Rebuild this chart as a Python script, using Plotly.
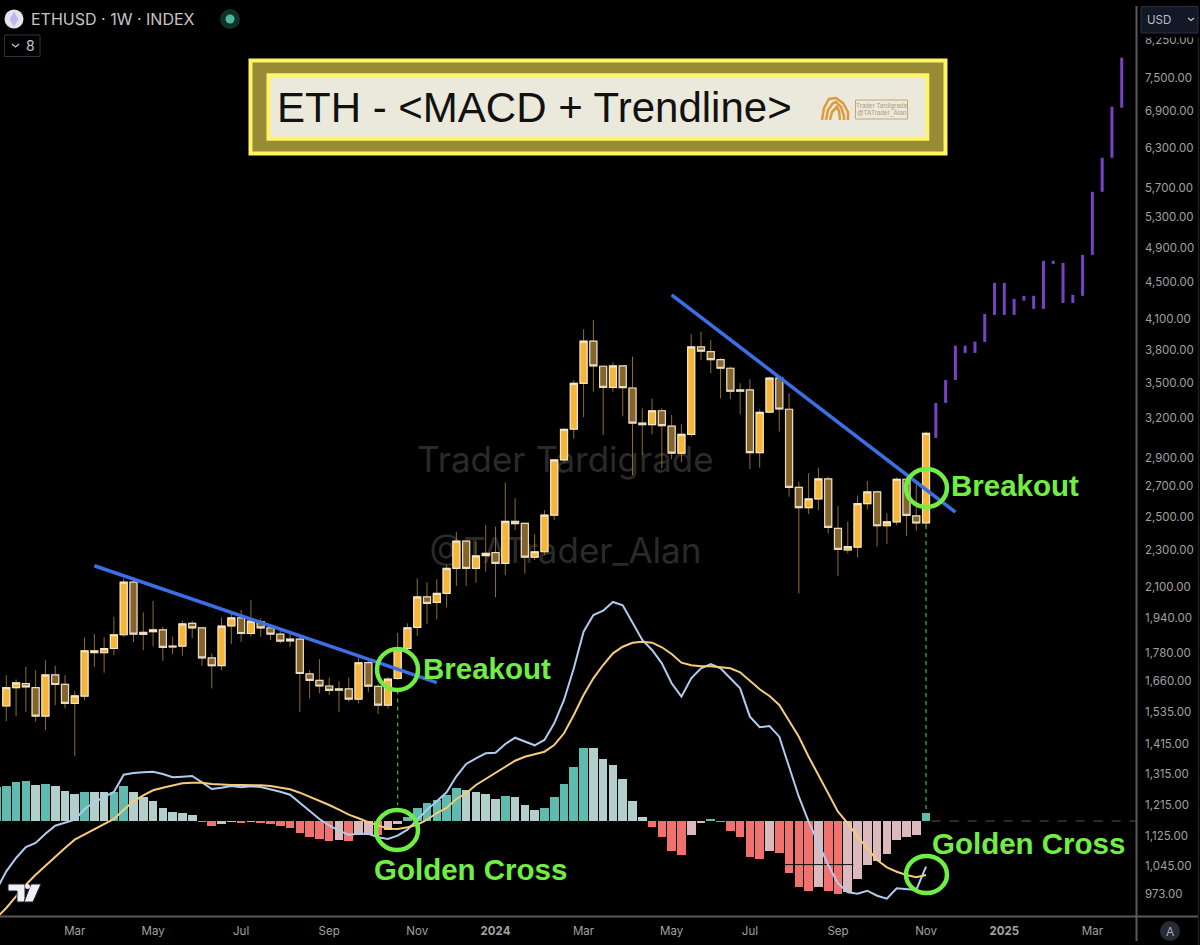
import pandas as pd
import plotly.graph_objects as go

WIDTH, HEIGHT = 1200, 945
GREEN = "#70EE44"
GREY_TEXT = "#A2A2A2"
AXIS_GREY = "#5A5A5A"

# weekly candles, Jan 2023 to Nov 2024
candle_open = [
    1558, 1631, 1648, 1631, 1519, 1684, 1645, 1568, 1597, 1781, 1780, 1799, 1862, 2124, 1873, 1876, 1885, 1810, 1810, 1916,
    1894, 1757, 1724, 1904, 1942, 1868, 1924, 1894, 1865, 1834, 1842, 1688, 1661, 1638, 1626, 1626, 1585, 1737, 1636, 1561,
    1669, 1799, 1897, 2047, 2019, 2065, 2199, 2354, 2199, 2270, 2287, 2226, 2473, 2461, 2261, 2292, 2512, 2884, 3116, 3494,
    3882, 3646, 3459, 3649, 3453, 3163, 3150, 3262, 3139, 2933, 3075, 3827, 3782, 3707, 3628, 3436, 3436, 2937, 3251, 3540,
    3274, 2693, 2559, 2616, 2750, 2430, 2302, 2319, 2585, 2662, 2446, 2470, 2748, 2507, 2463,
]
candle_high = [
    1683, 1665, 1718, 1704, 1747, 1723, 1683, 1618, 1850, 1865, 1850, 1948, 2144, 2135, 1970, 2026, 1900, 1853, 1929, 1927,
    1900, 1777, 1945, 1965, 1981, 2031, 1940, 1908, 1884, 1876, 1853, 1704, 1752, 1673, 1658, 1673, 1760, 1747, 1645, 1676,
    1871, 1916, 2144, 2123, 2139, 2217, 2410, 2356, 2350, 2450, 2440, 2725, 2620, 2463, 2395, 2544, 2890, 3120, 3523, 3999,
    4094, 3650, 3683, 3652, 3735, 3282, 3362, 3282, 3227, 3153, 3950, 3976, 3894, 3720, 3643, 3494, 3529, 3274, 3553, 3548,
    3408, 2732, 2790, 2829, 2766, 2570, 2471, 2637, 2736, 2670, 2523, 2762, 2762, 2720, 3096,
]
candle_low = [
    1500, 1519, 1535, 1498, 1467, 1561, 1549, 1374, 1581, 1718, 1693, 1769, 1853, 1829, 1792, 1810, 1744, 1774, 1767, 1845,
    1723, 1628, 1704, 1819, 1829, 1853, 1853, 1837, 1822, 1807, 1535, 1588, 1608, 1601, 1535, 1574, 1568, 1612, 1527, 1549,
    1662, 1792, 1856, 1913, 1935, 1993, 2103, 2103, 2121, 2180, 2045, 2162, 2420, 2170, 2245, 2273, 2481, 2866, 3042, 3210,
    3421, 3068, 3421, 3217, 2777, 2921, 3075, 2824, 2889, 2868, 3054, 3704, 3583, 3365, 3357, 3233, 2819, 2829, 3246, 3096,
    2631, 2065, 2519, 2544, 2400, 2157, 2283, 2260, 2548, 2321, 2337, 2450, 2385, 2415, 2440,
]
candle_close = [
    1631, 1651, 1634, 1519, 1684, 1644, 1568, 1598, 1789, 1789, 1799, 1862, 2124, 1865, 1864, 1885, 1804, 1806, 1913, 1894,
    1757, 1723, 1903, 1942, 1868, 1927, 1894, 1865, 1833, 1842, 1690, 1661, 1638, 1620, 1621, 1585, 1736, 1637, 1561, 1666,
    1797, 1895, 2047, 2014, 2065, 2199, 2354, 2199, 2268, 2283, 2226, 2473, 2459, 2261, 2292, 2512, 2884, 3113, 3494, 3882,
    3649, 3459, 3649, 3456, 3163, 3150, 3262, 3142, 2933, 3075, 3827, 3786, 3707, 3628, 3425, 3425, 2937, 3249, 3540, 3276,
    2693, 2559, 2616, 2750, 2436, 2306, 2321, 2585, 2662, 2446, 2470, 2748, 2510, 2463, 3083,
]

# projected path, drawn as plain purple bars
proj_low = [3047, 3326, 3523, 3770, 3770, 3875, 4146, 4146, 4146, 4297, 4209, 4209, 4711, 4273, 4273, 4349, 4818, 5642, 6144, 6964]
proj_high = [3326, 3523, 3839, 3839, 3878, 4156, 4492, 4492, 4316, 4349, 4349, 4747, 4747, 4723, 4360, 4818, 5642, 6144, 6981, 7892]

# MACD pane, first entry is the week cut off at the left edge
hist_values = [
    34, 34.7, 39, 40.5, 36, 37, 35, 30, 27, 29, 29, 29, 29, 35, 29, 24, 20, 13, 9, 8, 6, -0.7, -5.3, -2.7, -0.7, -1.3, -1, -1.3,
    -2.7, -5.3, -6.7, -12, -16, -18, -19.7, -19.3, -19.7, -14, -14, -14, -9.3, -3.3, 4, 13, 18, 21, 26, 32.7,
    31, 28.7, 26.7, 21.7, 24.7, 24, 16, 10.7, 12.7, 24, 37, 54, 72.7, 72.7, 62, 56, 41.7, 20.3, 3.7, -5.7, -16.3, -29.7, -34.3,
    -13.7, -2.3, 1.7, -1, -10, -16.3, -36, -38, -29.7, -32.3, -51.7, -65.7, -70, -65.7, -70, -73.3, -71.3, -57.7, -43.7, -39.7,
    -33.3, -19.3, -16.3, -14.3, 7.7,
]
# T teal, P pale teal, R red, K pink
hist_state = list(
    "TTTTPTPPPTPPTTPPPPPPPRRKKRKRRRRRRRRKRKKRKKTTTTTT"
    "PPPPTPPPTTTTTPPPPPPRRRRKKTRRRRRKRRRRKRRKKKKKKKKT"
)
macd_line = [
    -68.7, -50.3, -37, -26, -22, -12.7, -4.7, -2, 1.3, 12, 18.7, 24, 29, 46.3, 48, 48.7, 49.3, 47, 43.7, 44.3, 45, 38.7, 32, 33.3,
    35, 33.7, 34.7, 34, 32, 29.3, 26.3, 18, 9.7, 2, -4.3, -9.7, -13.7, -12.7, -12.7, -16.3, -18, -14.7, -8.7, 1.3, 11.3, 19.7, 28.7, 44.7,
    57, 62.7, 67.7, 68.3, 77, 83.3, 79.3, 75.7, 81, 97.7, 121, 152.7, 189.3, 206, 210.3, 219, 215.7, 197.7, 181, 171, 157.7, 137.7, 124.3,
    142.7, 152.7, 157, 152.7, 142.7, 132.7, 104.3, 93.7, 95, 84.3, 54.3, 24.3, -0.7, -22.3, -44, -62.3, -71.3, -72.7, -69.7, -74.7, -77.7,
    -67.3, -68, -69, -45.7,
]
signal_line = [
    -97, -87, -75.3, -63.7, -53.7, -44.7, -35.3, -27, -18.7, -13.7, -8.7, -3.7, 2, 11.3, 19.7, 25.7, 30.7, 33.3, 35.7, 37.7, 38.3, 38.3, 37, 36.3,
    36, 36, 36, 35.7, 35, 33.7, 31.7, 28.3, 24.3, 20.7, 16, 11.3, 6.3, 2.7, -1.3, -4.3, -7.7, -8, -6.3, -3.7, 1.3, 8, 13, 22,
    27.7, 36, 42, 47.7, 54.3, 60.3, 64.3, 66.7, 69.3, 76, 87.7, 106, 126, 142.7, 156, 167.7, 174.3, 178.3, 179.3, 178.3, 173.7, 167, 158.3,
    155.7, 154.7, 154.7, 154, 152.7, 148.7, 140.3, 131.7, 125, 116, 100.3, 84.3, 64.3, 46, 27.7, 9.3, -2.3, -15.7, -27.3, -39, -46.3,
    -50.7, -54, -56.3, -54,
]

# drawn trendlines and the two breakout drop lines
trend1_x = ["2023-03-20", "2023-11-20"]
trend1_y = [2213, 1652]
trend2_x = ["2024-05-06", "2024-11-25"]
trend2_y = [4359, 2531]
drop1_x = ["2023-10-23", "2023-10-23"]
drop1_y = [1620, 1215]
drop2_x = ["2024-11-04", "2024-11-04"]
drop2_y = [2450, 1200]

price_ticks = [8250, 7500, 6900, 6300, 5700, 5300, 4900, 4500, 4100, 3800, 3500, 3200, 2900, 2700, 2500, 2300, 2100, 1940, 1780,
               1660, 1535, 1415, 1315, 1215, 1125, 1045, 973]
date_ticks = ["2023-03-06", "2023-05-01", "2023-07-03", "2023-09-04", "2023-11-06", "2024-01-01", "2024-03-04", "2024-05-06",
              "2024-07-01", "2024-09-02", "2024-11-04", "2024-12-30", "2025-03-03"]
date_labels = ["Mar", "May", "Jul", "Sep", "Nov", "<b>2024</b>", "Mar", "May", "Jul", "Sep", "Nov", "<b>2025</b>", "Mar"]

hist_colors = {"T": "#5FBAAF", "P": "#B3CFCB", "R": "#F1716F", "K": "#DCB9BD"}

candle_dates = pd.date_range("2023-01-16", periods=len(candle_open), freq="7D")
proj_dates = pd.date_range("2024-11-11", periods=len(proj_low), freq="7D")
hist_dates = pd.date_range("2023-01-09", periods=len(hist_values), freq="7D")


def px(x):
    return x / WIDTH


def py(y):
    return 1 - y / HEIGHT


def rect(x0, y0, x1, y1, fill, line=None, width=0):
    return dict(type="rect", xref="paper", yref="paper", x0=px(x0), x1=px(x1), y0=py(y0), y1=py(y1),
                fillcolor=fill, line=dict(color=line or fill, width=width))


def ring(x0, y0, x1, y1):
    return dict(type="circle", xref="paper", yref="paper", x0=px(x0), x1=px(x1), y0=py(y0), y1=py(y1),
                line=dict(color=GREEN, width=4.5))


def poly(points, fill=None, line=None, width=1, close=True):
    path = "M " + " L ".join(f"{px(a):.5f},{py(b):.5f}" for a, b in points)
    if close:
        path += " Z"
    return dict(type="path", xref="paper", yref="paper", path=path, fillcolor=fill or "rgba(0,0,0,0)",
                line=dict(color=line or "rgba(0,0,0,0)", width=width))


def label(x, y, text, size, color, anchor="left", family="Inter"):
    return dict(xref="paper", yref="paper", x=px(x), y=py(y), text=text, showarrow=False, xanchor=anchor, yanchor="middle",
                font=dict(size=size, color=color, family=family))


fig = go.Figure()

# base axis: watermark and MACD pane, price overlay goes on top of it
fig.add_trace(go.Scatter(
    x=["2024-02-20", "2024-02-20"], y=[358, 267], mode="text", text=["Trader Tardigrade", "@TATrader_Alan"],
    textfont=dict(size=35, color="#2A2A2A", family="Inter"), yaxis="y", showlegend=False,
))
fig.add_trace(go.Bar(
    x=hist_dates, y=hist_values, width=7 * 86400000 * 0.88,
    marker=dict(color=[hist_colors[s] for s in hist_state], line=dict(width=0)), yaxis="y", showlegend=False,
))
fig.add_trace(go.Scatter(x=["2024-07-26", "2024-09-13"], y=[-43.6, -43.6], mode="lines", line=dict(color="#111111", width=1), showlegend=False))
fig.add_trace(go.Scatter(x=["2024-11-08", "2025-04-03"], y=[0, 0], mode="lines", line=dict(color="#555555", width=1, dash="dash"), showlegend=False))
fig.add_trace(go.Scatter(x=hist_dates, y=macd_line, mode="lines", line=dict(color="#AFCBEE", width=2), showlegend=False))
fig.add_trace(go.Scatter(x=hist_dates, y=signal_line, mode="lines", line=dict(color="#F6CC7B", width=2), showlegend=False))

# wicks first, then the same candles again without wicks for the pale border
fig.add_trace(go.Candlestick(
    x=candle_dates, open=candle_open, high=candle_high, low=candle_low, close=candle_close, yaxis="y2",
    increasing=dict(line=dict(color="#8E6D2E", width=1), fillcolor="#F7B538"),
    decreasing=dict(line=dict(color="#8E6D2E", width=1), fillcolor="#85642B"),
    showlegend=False,
))
fig.add_trace(go.Candlestick(
    x=candle_dates, open=candle_open, close=candle_close, yaxis="y2",
    high=[max(o, c) for o, c in zip(candle_open, candle_close)],
    low=[min(o, c) for o, c in zip(candle_open, candle_close)],
    increasing=dict(line=dict(color="#F3E7C9", width=1.2), fillcolor="#F7B538"),
    decreasing=dict(line=dict(color="#E6DCC6", width=1.2), fillcolor="#85642B"),
    showlegend=False,
))

bar_x, bar_y = [], []
for d, lo, hi in zip(proj_dates, proj_low, proj_high):
    bar_x += [d, d, None]
    bar_y += [lo, hi, None]
fig.add_trace(go.Scatter(x=bar_x, y=bar_y, mode="lines", line=dict(color="#7743C4", width=3), yaxis="y2", showlegend=False))

for xs, ys in [(drop1_x, drop1_y), (drop2_x, drop2_y)]:
    fig.add_trace(go.Scatter(x=xs, y=ys, mode="lines", line=dict(color="#3FA83A", width=1.3, dash="4px,4px"), yaxis="y2", showlegend=False))
for xs, ys in [(trend1_x, trend1_y), (trend2_x, trend2_y)]:
    fig.add_trace(go.Scatter(x=xs, y=ys, mode="lines", line=dict(color="#3C6EE6", width=3.6), yaxis="y2", showlegend=False))

shapes = [
    # axis frame
    dict(type="line", xref="paper", yref="paper", x0=px(1136.5), x1=px(1136.5), y0=py(6), y1=py(941), line=dict(color=AXIS_GREY, width=2)),
    dict(type="line", xref="paper", yref="paper", x0=0, x1=px(1198), y0=py(916.5), y1=py(916.5), line=dict(color=AXIS_GREY, width=2)),
    dict(type="line", xref="paper", yref="paper", x0=px(1198.5), x1=px(1198.5), y0=py(37), y1=py(945), line=dict(color="#1E1E1E", width=1.5)),
    # title box
    rect(248.5, 58.5, 947.5, 155.5, "#FFF467"),
    rect(252.5, 62.5, 943.5, 151.5, "#978B35"),
    rect(266.5, 73.3, 929.3, 140.7, "#FFF467"),
    rect(270.5, 77.3, 925.5, 136.7, "#EBE9DC"),
    # logo tag in the title box
    rect(855.5, 100, 907.5, 119, "rgba(0,0,0,0)", line="#C9A27A", width=1),
    # breakout and cross rings
    ring(377, 649, 418, 690),
    ring(906, 469, 947, 507),
    ring(376, 810, 418, 850),
    ring(906, 856, 947, 893),
    # header
    dict(type="circle", xref="paper", yref="paper", x0=px(4.5), x1=px(23.5), y0=py(9.5), y1=py(28.5), fillcolor="#E4E4EE", line=dict(width=0)),
    poly([(14, 11.5), (18.5, 19.5), (14, 26.5), (9.5, 19.5)], fill="#BDB8EA"),
    dict(type="circle", xref="paper", yref="paper", x0=px(220), x1=px(240), y0=py(9), y1=py(29), fillcolor="#10302B", line=dict(width=0)),
    dict(type="circle", xref="paper", yref="paper", x0=px(225.5), x1=px(234.5), y0=py(14.5), y1=py(23.5), fillcolor="#4DB89A", line=dict(width=0)),
    rect(4.5, 35, 40, 56.5, "rgba(0,0,0,0)", line="#30343C", width=1),
    poly([(12, 44), (15.5, 47), (19, 44)], line="#C8C8C8", width=1.2, close=False),
    # USD selector, it also hides the top of the 8,250.00 tick
    rect(1141, 33, 1198, 37.5, "#000000"),
    rect(1141, 6.5, 1198, 33, "#131826", line="#2B3142", width=1),
    poly([(1188, 18), (1191, 20.5), (1194, 18)], line="#C8CCD4", width=1.2, close=False),
    # A button
    dict(type="circle", xref="paper", yref="paper", x0=px(1160), x1=px(1180), y0=py(921), y1=py(941), fillcolor="#272B36", line=dict(width=0)),
    # TradingView mark
    poly([(8, 884), (25, 884), (25, 902), (17, 902), (17, 891), (8, 891)], fill="#F0F0F4", line="#1A2030", width=1),
    poly([(31, 884), (41, 884), (33, 902), (24, 902)], fill="#F0F0F4", line="#1A2030", width=1),
    dict(type="circle", xref="paper", yref="paper", x0=px(25), x1=px(30), y0=py(884), y1=py(889), fillcolor="#F0F0F4", line=dict(width=0)),
]
# little orange arches of the logo
for off in (0, 4, 8):
    shapes.append(poly(
        [(822 + off, 120), (824 + off, 108 + off / 2), (829 + off, 99 + off), (836, 98 + off), (843 - off / 2, 103 + off),
         (848 - off, 112 + off), (848 - off, 120)],
        line="#DE9A3C", width=2.5, close=False,
    ))

annotations = [
    label(275, 107, "ETH - &lt;MACD + Trendline&gt;", 42, "#111111", family="Liberation Sans"),
    label(881.5, 105.5, "Trader Tardigrade", 6.5, "#B99A7C", anchor="center", family="Liberation Sans"),
    label(881.5, 113.5, "@TATrader_Alan", 6.5, "#B99A7C", anchor="center", family="Liberation Sans"),
    label(421, 668, "<b>Breakout</b>", 29.5, GREEN, family="Liberation Sans"),
    label(949, 486, "<b>Breakout</b>", 29.5, GREEN, family="Liberation Sans"),
    label(372, 869, "<b>Golden Cross</b>", 29.5, GREEN, family="Liberation Sans"),
    label(930, 843, "<b>Golden Cross</b>", 29.5, GREEN, family="Liberation Sans"),
    label(29, 19, "ETHUSD · 1W · INDEX", 16, "#C6C6C6"),
    label(30.5, 46, "8", 14, "#C6C6C6", anchor="center"),
    label(1145, 19.5, "USD", 11.5, "#B8BDC8"),
    label(1170, 931, "A", 12, "#A8ACB6", anchor="center"),
]

fig.update_layout(
    width=WIDTH,
    height=HEIGHT,
    margin=dict(l=0, r=0, t=0, b=0),
    paper_bgcolor="#000000",
    plot_bgcolor="#000000",
    showlegend=False,
    bargap=0,
    boxgap=0.15,
    boxgroupgap=0.15,
    shapes=shapes,
    annotations=annotations,
    font=dict(family="Inter", color=GREY_TEXT),
    xaxis=dict(
        domain=[0, px(1136)], type="date", range=["2023-01-11 12:00", "2025-04-03 05:00"], rangeslider=dict(visible=False),
        tickmode="array", tickvals=date_ticks, ticktext=date_labels, ticks="", showgrid=False, zeroline=False,
        tickfont=dict(size=11.5, color=GREY_TEXT, family="Inter"), ticklabelstandoff=6, tickangle=0,
    ),
    yaxis=dict(domain=[py(916), py(6)], range=[-95, 815], visible=False, showgrid=False, zeroline=False),
    yaxis2=dict(
        domain=[py(916), py(6)], type="log", range=[2.9643, 3.9534], overlaying="y", side="right", anchor="x",
        tickmode="array", tickvals=price_ticks, ticktext=[f"{t:,.2f}" for t in price_ticks], ticks="", showgrid=False, zeroline=False,
        tickfont=dict(size=11.5, color=GREY_TEXT, family="Inter"), ticklabelstandoff=8,
    ),
)

# the page body has a default margin, the chart should sit flush with the window
fig.write_html(
    "out.html",
    config={"displayModeBar": False},
    post_script="document.body.style.margin='0';document.body.style.background='#000';",
)
